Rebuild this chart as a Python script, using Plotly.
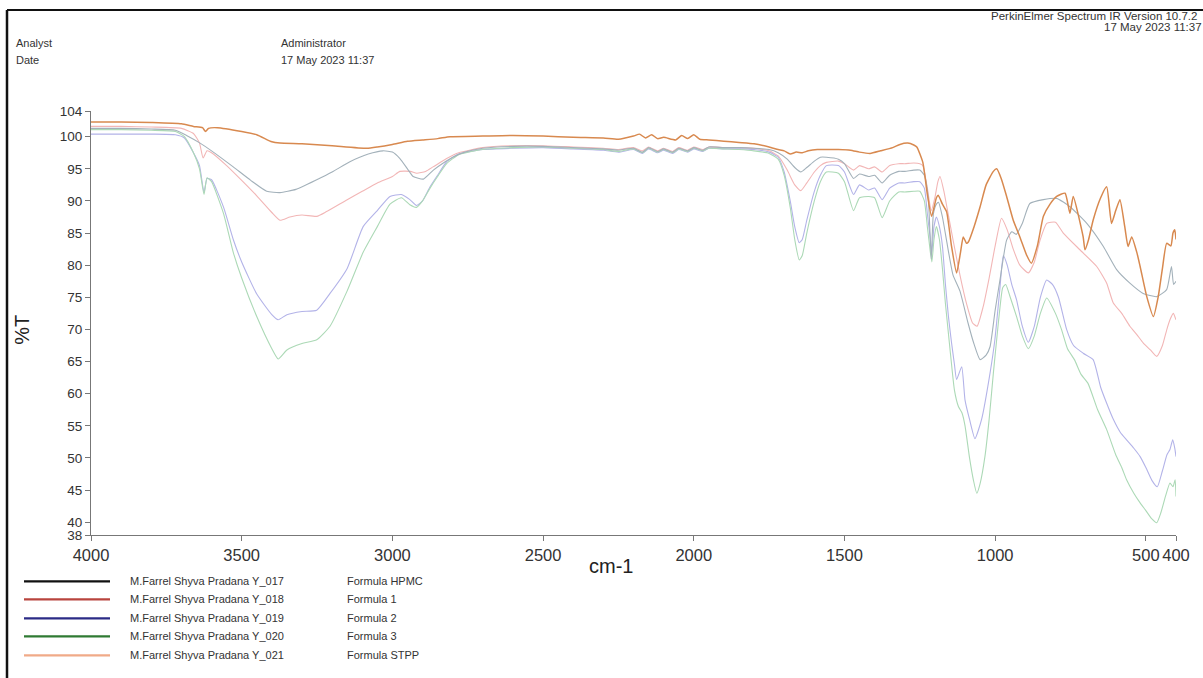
import plotly.graph_objects as go

# ---------------- data ----------------
wn_hpmc = [4000, 3900, 3800, 3720, 3683, 3638, 3600, 3528, 3470, 3417, 3373, 3320, 3251, 3200, 3141, 3080, 3031, 3000,
           2975, 2950, 2931, 2897, 2864, 2831, 2800, 2760, 2700, 2600, 2500, 2400, 2300, 2250, 2200, 2170, 2150, 2120,
           2100, 2070, 2050, 2020, 2000, 1970, 1950, 1900, 1850, 1800, 1750, 1720, 1690, 1665, 1645, 1625, 1600, 1580,
           1560, 1520, 1500, 1470, 1450, 1420, 1400, 1375, 1350, 1320, 1300, 1270, 1250, 1235, 1222, 1212, 1205, 1195,
           1188, 1175, 1160, 1140, 1117, 1090, 1072, 1050, 1030, 1017, 1000, 984, 962, 945, 930, 910, 885, 840, 796,
           752, 696, 641, 597, 553, 509, 464, 431, 415, 408, 400]
t_hpmc = [101.3, 101.3, 101.2, 101.0, 100.2, 99.0, 97.8, 95.3, 93.2, 91.5, 91.3, 91.8, 93.3, 94.5, 96.1, 97.3, 97.8, 97.6,
          96.6, 95.0, 93.8, 93.4, 94.8, 95.9, 96.8, 97.6, 98.2, 98.5, 98.5, 98.3, 98.1, 97.9, 98.2, 97.6, 98.3, 97.7,
          98.1, 97.6, 98.2, 97.8, 98.3, 97.9, 98.4, 98.3, 98.3, 98.2, 98.0, 97.5, 96.5, 95.2, 94.5, 95.2, 96.2, 96.8,
          96.8, 96.5, 95.8, 93.5, 94.2, 93.8, 94.0, 92.8, 94.0, 94.6, 94.6, 94.8, 94.8, 94.0, 90.5, 81.0, 88.0, 89.5,
          89.8, 87.5, 83.5, 78.5, 76.0, 71.0, 68.0, 65.3, 66.0, 67.3, 73.0, 77.7, 83.9, 85.2, 84.8, 86.5, 89.6, 90.2, 90.4,
          89.1, 86.5, 82.9, 79.3, 77.2, 75.6, 75.1, 76.2, 79.8, 77.0, 77.5]

wn_f1 = [4000, 3900, 3800, 3700, 3660, 3640, 3628, 3615, 3600, 3550, 3500, 3450, 3400, 3373, 3340, 3300, 3251, 3220,
         3150, 3100, 3050, 3000, 2975, 2940, 2919, 2890, 2865, 2820, 2780, 2700, 2600, 2500, 2400, 2300, 2250, 2200,
         2170, 2150, 2120, 2100, 2070, 2050, 2020, 2000, 1970, 1950, 1900, 1850, 1800, 1750, 1720, 1690, 1665, 1645,
         1625, 1600, 1580, 1560, 1520, 1500, 1470, 1450, 1420, 1400, 1375, 1350, 1320, 1300, 1270, 1250, 1240, 1225,
         1212, 1200, 1190, 1183, 1170, 1160, 1140, 1117, 1095, 1075, 1060, 1040, 1020, 1000, 979, 960, 940, 918, 890,
         870, 851, 829, 800, 774, 719, 663, 630, 608, 580, 553, 530, 509, 485, 464, 445, 431, 420, 409, 400]
t_f1 = [101.6, 101.6, 101.5, 101.3, 100.5, 99.0, 96.7, 97.8, 97.5, 95.5, 93.2, 90.8, 88.2, 87.0, 87.5, 87.8, 87.6, 88.3,
        90.2, 91.5, 92.8, 93.8, 94.6, 94.6, 94.3, 94.6, 95.3, 96.6, 97.5, 98.3, 98.6, 98.6, 98.4, 98.2, 98.0, 98.3,
        97.8, 98.4, 97.8, 98.2, 97.7, 98.3, 97.9, 98.4, 98.0, 98.4, 98.3, 98.3, 98.2, 97.8, 97.0, 94.8, 92.5, 91.6,
        92.8, 94.5, 95.5, 96.0, 96.2, 95.8, 94.8, 95.5, 95.0, 95.3, 94.5, 95.5, 95.8, 95.8, 95.9, 95.8, 95.5, 92.0,
        88.5, 90.5, 93.0, 93.8, 91.5, 89.0, 84.0, 78.5, 74.0, 71.0, 70.5, 73.5, 78.0, 83.0, 87.3, 85.5, 82.5, 80.0, 78.8,
        80.5, 83.9, 86.5, 86.7, 85.0, 82.4, 79.8, 77.2, 74.1, 72.5, 70.5, 69.2, 67.9, 66.8, 65.8, 67.5, 69.9, 71.5, 72.5, 71.5]

wn_f2 = [4000, 3900, 3800, 3720, 3690, 3660, 3640, 3625, 3615, 3600, 3560, 3528, 3500, 3450, 3400, 3379, 3350, 3300,
         3251, 3207, 3150, 3097, 3050, 3008, 2970, 2942, 2920, 2900, 2875, 2850, 2820, 2780, 2700, 2600, 2500, 2400,
         2300, 2250, 2200, 2170, 2150, 2120, 2100, 2070, 2050, 2020, 2000, 1970, 1950, 1900, 1850, 1800, 1750, 1720,
         1700, 1680, 1665, 1650, 1640, 1625, 1600, 1580, 1560, 1520, 1500, 1470, 1450, 1420, 1400, 1375, 1350, 1320,
         1300, 1270, 1250, 1235, 1225, 1215, 1210, 1203, 1195, 1185, 1175, 1165, 1155, 1145, 1135, 1128, 1111, 1100,
         1085, 1067, 1045, 1017, 1001, 985, 973, 960, 945, 929, 910, 890, 870, 850, 829, 810, 790, 763, 740, 708, 675,
         650, 630, 608, 585, 564, 540, 519, 500, 480, 462, 445, 430, 420, 411, 404, 400]
t_f2 = [100.4, 100.4, 100.4, 100.3, 99.8, 97.5, 95.5, 91.3, 93.5, 93.3, 89.0, 84.0, 80.5, 75.5, 72.3, 71.5, 72.3, 72.8,
        73.0, 75.6, 79.5, 86.0, 88.5, 90.7, 91.0, 90.2, 89.3, 90.0, 92.2, 94.0, 96.1, 97.3, 98.0, 98.2, 98.3, 98.1,
        97.9, 97.6, 98.0, 97.4, 98.1, 97.5, 97.9, 97.4, 98.0, 97.6, 98.1, 97.7, 98.2, 98.1, 98.1, 98.0, 97.6, 96.8,
        94.5, 90.0, 86.0, 83.5, 84.0, 87.0, 91.5, 94.0, 95.5, 95.5, 94.5, 91.0, 92.5, 91.7, 92.0, 90.2, 92.0, 92.8,
        92.8, 93.0, 93.0, 92.0, 88.0, 84.0, 82.0, 86.0, 87.5, 86.0, 83.0, 77.0, 72.0, 68.0, 64.5, 62.2, 64.2, 59.0,
        56.0, 53.0, 56.0, 63.2, 68.4, 76.0, 81.5, 80.0, 77.0, 74.6, 70.5, 68.0, 70.5, 75.0, 77.7, 77.0, 75.0, 70.0, 67.5,
        66.3, 65.3, 61.0, 58.5, 56.0, 54.0, 52.8, 51.5, 50.2, 48.5, 46.5, 45.5, 48.0, 50.5, 51.3, 52.8, 51.5, 50.2]

wn_f3 = [4000, 3900, 3800, 3720, 3690, 3660, 3640, 3625, 3615, 3600, 3560, 3528, 3500, 3450, 3400, 3379, 3350, 3300,
         3251, 3207, 3150, 3097, 3050, 3008, 2970, 2942, 2920, 2900, 2875, 2850, 2820, 2780, 2700, 2600, 2500, 2400,
         2300, 2250, 2200, 2170, 2150, 2120, 2100, 2070, 2050, 2020, 2000, 1970, 1950, 1900, 1850, 1800, 1750, 1720,
         1700, 1680, 1665, 1650, 1640, 1625, 1600, 1580, 1560, 1520, 1500, 1470, 1450, 1420, 1400, 1375, 1350, 1320,
         1300, 1270, 1250, 1235, 1225, 1215, 1210, 1203, 1195, 1185, 1175, 1165, 1150, 1135, 1122, 1110, 1100, 1085,
         1072, 1061, 1050, 1034, 1020, 1006, 995, 985, 975, 965, 950, 929, 910, 890, 870, 850, 829, 800, 780, 760, 737,
         715, 692, 660, 630, 600, 580, 564, 540, 519, 500, 480, 464, 450, 435, 420, 410, 403, 400]
t_f3 = [101.1, 101.1, 101.0, 100.8, 100.0, 97.5, 95.0, 91.0, 93.6, 93.0, 88.0, 82.0, 78.0, 72.0, 67.0, 65.4, 66.8, 67.8,
        68.4, 70.5, 76.0, 82.0, 86.0, 89.5, 90.5, 89.4, 89.0, 90.0, 92.0, 93.8, 95.8, 97.2, 98.0, 98.3, 98.4, 98.2,
        98.0, 97.7, 98.1, 97.5, 98.2, 97.6, 98.0, 97.5, 98.1, 97.7, 98.2, 97.8, 98.2, 98.1, 98.0, 97.8, 97.4, 96.5,
        94.0, 89.0, 84.0, 80.8, 81.5, 85.0, 90.0, 93.0, 94.5, 94.3, 93.0, 88.5, 90.5, 90.7, 90.5, 87.4, 90.0, 91.4,
        91.4, 91.5, 91.5, 90.0, 86.0, 82.0, 80.5, 84.0, 86.0, 84.0, 79.5, 74.0, 67.0, 60.5, 58.0, 57.0, 55.0, 50.0,
        46.5, 44.5, 46.0, 50.2, 56.0, 63.2, 68.4, 73.0, 76.5, 77.0, 75.0, 72.0, 69.0, 67.0, 69.0, 72.5, 74.9, 72.5, 70.0,
        67.0, 65.3, 63.0, 61.6, 57.5, 54.4, 50.5, 48.5, 46.6, 44.5, 43.0, 41.8, 40.5, 39.9, 41.5, 44.0, 46.1, 45.5,
        46.6, 44.0]

wn_stpp = [4000, 3900, 3800, 3700, 3660, 3630, 3620, 3610, 3580, 3500, 3450, 3400, 3373, 3300, 3200, 3085, 3050, 3000,
           2950, 2900, 2850, 2809, 2700, 2600, 2500, 2400, 2300, 2250, 2200, 2180, 2160, 2140, 2120, 2100, 2060, 2040,
           2020, 2000, 1980, 1950, 1900, 1850, 1800, 1750, 1720, 1700, 1680, 1660, 1640, 1620, 1590, 1560, 1520, 1480,
           1450, 1415, 1380, 1340, 1316, 1290, 1270, 1260, 1240, 1225, 1211, 1195, 1189, 1175, 1161, 1145, 1128, 1115,
           1106, 1095, 1089, 1070, 1050, 1030, 1006, 995, 980, 962, 940, 918, 895, 880, 860, 840, 818, 796, 768, 752,
           741, 708, 702, 690, 675, 650, 630, 614, 600, 586, 570, 559, 547, 530, 519, 497, 475, 459, 445, 431, 417, 410,
           404, 400]
t_stpp = [102.3, 102.3, 102.2, 102.0, 101.6, 101.4, 100.8, 101.3, 101.4, 100.8, 100.3, 99.2, 99.0, 98.9, 98.6, 98.2, 98.4,
          98.8, 99.3, 99.5, 99.7, 100.0, 100.1, 100.2, 100.1, 99.9, 99.8, 99.6, 100.1, 100.4, 99.8, 100.3, 99.7, 99.9,
          99.5, 100.2, 99.7, 100.3, 99.6, 99.5, 99.3, 99.1, 98.9, 98.4, 98.0, 97.8, 97.3, 97.6, 97.5, 97.8, 98.0, 98.0,
          98.0, 97.9, 97.6, 97.4, 97.8, 98.3, 98.8, 99.0, 98.7, 98.4, 96.0, 91.0, 87.6, 90.5, 90.9, 89.5, 88.3, 83.0,
          78.8, 82.0, 84.4, 83.4, 83.6, 86.0, 89.1, 92.5, 94.6, 95.0, 93.5, 90.7, 87.0, 84.4, 81.5, 80.3, 83.0, 87.6,
          89.5, 90.7, 91.2, 88.1, 90.7, 84.4, 82.4, 84.0, 87.0, 90.5, 92.2, 86.5, 88.5, 90.2, 86.0, 82.9, 84.4, 82.0,
          79.8, 75.1, 72.0, 75.1, 79.5, 83.4, 83.0, 85.0, 85.5, 84.0]

x_ticks = [4000, 3500, 3000, 2500, 2000, 1500, 1000, 500, 400]
y_ticks = [38, 40, 45, 50, 55, 60, 65, 70, 75, 80, 85, 90, 95, 100, 104]

sample_ids = ["M.Farrel Shyva Pradana Y_017", "M.Farrel Shyva Pradana Y_018", "M.Farrel Shyva Pradana Y_019",
              "M.Farrel Shyva Pradana Y_020", "M.Farrel Shyva Pradana Y_021"]
sample_names = ["Formula HPMC", "Formula 1", "Formula 2", "Formula 3", "Formula STPP"]

# ---------------- styling ----------------
W, H = 1203, 678
ML, MR, MT, MB = 91, 27, 111, 142.5
PW, PH = W - ML - MR, H - MT - MB
FONT = "Liberation Sans, Arial, sans-serif"

curve_colors = ["#a3b1ba", "#f2b6b6", "#b3b3e8", "#acd9b6", "#d8894f"]
curve_widths = [1.1, 1.1, 1.1, 1.1, 1.5]
legend_colors = ["#111111", "#b8443e", "#2b2b86", "#2f7a33", "#f0aa88"]


def px(xp):
    return (xp - ML) / PW


def py(yp):
    return (H - MB - yp) / PH


fig = go.Figure()
series = [(wn_f1, t_f1, 1), (wn_f2, t_f2, 2), (wn_f3, t_f3, 3), (wn_hpmc, t_hpmc, 0), (wn_stpp, t_stpp, 4)]
for wn, tv, i in series:
    fig.add_trace(go.Scatter(x=wn, y=tv, mode="lines", name=sample_names[i],
                             line=dict(color=curve_colors[i], width=curve_widths[i], shape="spline", smoothing=0.5),
                             showlegend=False, hoverinfo="x+y"))

shapes = []
annotations = []

# frame lines
shapes.append(dict(type="line", xref="paper", yref="paper", x0=px(7), x1=px(W + 5), y0=py(10), y1=py(10),
                   line=dict(color="#111111", width=2)))
shapes.append(dict(type="line", xref="paper", yref="paper", x0=px(7), x1=px(7), y0=py(10), y1=py(H + 5),
                   line=dict(color="#111111", width=2.5)))

# legend
legend_rows = [582, 600, 619, 637, 656]
for i in range(5):
    yy = legend_rows[i]
    shapes.append(dict(type="line", xref="paper", yref="paper", x0=px(24), x1=px(110), y0=py(yy), y1=py(yy),
                       line=dict(color=legend_colors[i], width=2.2)))
    annotations.append(dict(xref="paper", yref="paper", x=px(128), y=py(yy), text=sample_ids[i], showarrow=False,
                            xanchor="left", yanchor="middle", font=dict(family=FONT, size=11, color="#333333")))
    annotations.append(dict(xref="paper", yref="paper", x=px(345), y=py(yy), text=sample_names[i], showarrow=False,
                            xanchor="left", yanchor="middle", font=dict(family=FONT, size=11, color="#333333")))

# header texts
hdr = dict(family=FONT, size=11, color="#333333")
annotations += [
    dict(xref="paper", yref="paper", x=px(14), y=py(43), text="Analyst", showarrow=False, xanchor="left",
         yanchor="middle", font=hdr),
    dict(xref="paper", yref="paper", x=px(14), y=py(60), text="Date", showarrow=False, xanchor="left",
         yanchor="middle", font=hdr),
    dict(xref="paper", yref="paper", x=px(279), y=py(43), text="Administrator", showarrow=False, xanchor="left",
         yanchor="middle", font=hdr),
    dict(xref="paper", yref="paper", x=px(279), y=py(60), text="17 May 2023 11:37", showarrow=False, xanchor="left",
         yanchor="middle", font=hdr),
    dict(xref="paper", yref="paper", x=px(989), y=py(16), text="PerkinElmer Spectrum IR Version 10.7.2",
         showarrow=False, xanchor="left", yanchor="middle", font=dict(family=FONT, size=11.5, color="#333333")),
    dict(xref="paper", yref="paper", x=px(1204), y=py(27), text="17 May 2023 11:37", showarrow=False,
         xanchor="right", yanchor="middle", font=dict(family=FONT, size=11.5, color="#333333")),
    # axis titles
    dict(xref="paper", yref="paper", x=px(22), y=py(330), text="%T", showarrow=False, textangle=-90,
         xanchor="center", yanchor="middle", font=dict(family=FONT, size=20, color="#222222")),
    dict(xref="paper", yref="paper", x=px(611), y=py(567), text="cm-1", showarrow=False,
         xanchor="center", yanchor="middle", font=dict(family=FONT, size=20, color="#222222")),
]

fig.update_layout(
    width=W, height=H, autosize=False,
    margin=dict(l=ML, r=MR, t=MT, b=MB, pad=0),
    paper_bgcolor="white", plot_bgcolor="white",
    font=dict(family=FONT, color="#333333"),
    shapes=shapes, annotations=annotations,
    showlegend=False,
)
fig.update_xaxes(range=[4000, 400], tickmode="array", tickvals=x_ticks, ticktext=[str(v) for v in x_ticks],
                 showgrid=False, zeroline=False, showline=True, linecolor="#777777", linewidth=1.2,
                 ticks="outside", ticklen=5, tickcolor="#777777", tickfont=dict(family=FONT, size=16.5, color="#333333"))
fig.update_yaxes(range=[38, 104], tickmode="array", tickvals=y_ticks, ticktext=[str(v) for v in y_ticks],
                 showgrid=False, zeroline=False, showline=True, linecolor="#777777", linewidth=1.2,
                 ticks="outside", ticklen=5, tickcolor="#777777", tickfont=dict(family=FONT, size=13.5, color="#333333"))

fig.write_html("out.html", config={"displayModeBar": False},
               post_script="document.body.style.margin='0';document.body.style.overflow='hidden';")
